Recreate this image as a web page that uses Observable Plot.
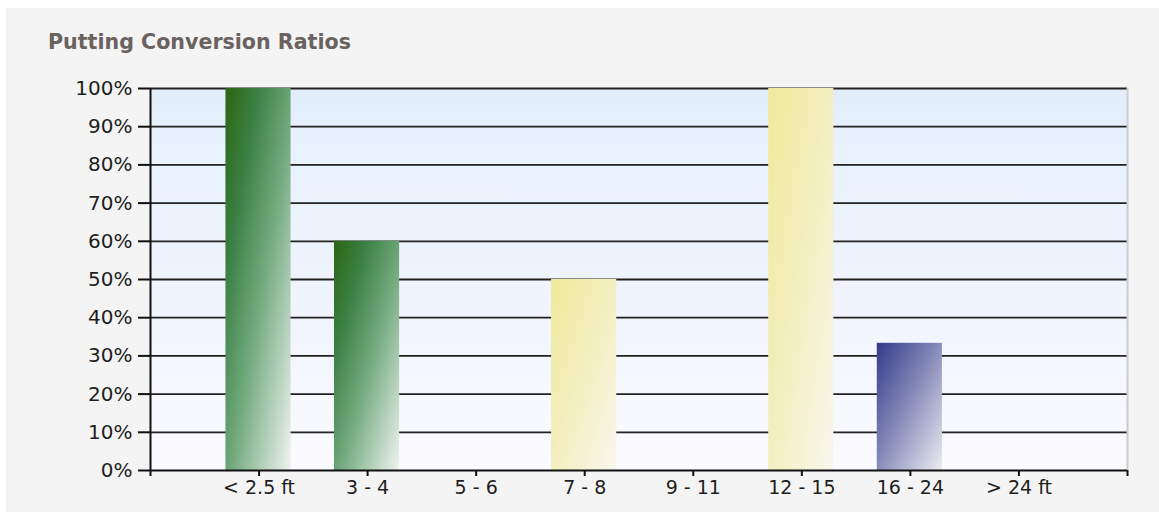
<!DOCTYPE html>
<html>
<head>
<meta charset="utf-8">
<script src="https://cdn.jsdelivr.net/npm/d3@7"></script>
<script src="https://cdn.jsdelivr.net/npm/@observablehq/plot@0.6"></script>
<style>
  html, body { margin: 0; padding: 0; background: #ffffff; }
  #panel {
    position: absolute; left: 6px; top: 8px;
    width: 1153px; height: 504px;
    background: #f4f4f4;
  }
  #title {
    margin: 0;
    padding: 24px 0 0 42px;
    height: 36px;
    line-height: 20px;
    font-family: "DejaVu Sans", Verdana, sans-serif;
    font-weight: bold;
    font-size: 20.6px;
    color: #6a625e;
  }
</style>
</head>
<body>
<div id="panel">
  <div id="title">Putting Conversion Ratios</div>
  <div id="chart"></div>
</div>
<script>
// Putt distance buckets and the share of putts holed from each
const categories = ["< 2.5 ft", "3 - 4", "5 - 6", "7 - 8", "9 - 11", "12 - 15", "16 - 24", "> 24 ft"];
const conversionPct = [100, 60, 0, 50, 0, 100, 33.3, 0];
const distanceZone = ["short", "short", "short", "mid", "mid", "mid", "long", "long"];
const yTicks = [0, 10, 20, 30, 40, 50, 60, 70, 80, 90, 100];

const rows = categories.map((c, i) => ({
  category: c,
  pos: i + 1,
  pct: conversionPct[i],
  zone: distanceZone[i]
}));

const svg = Plot.plot({
  width: 1153,
  height: 444,
  marginTop: 20,
  marginBottom: 42,
  marginLeft: 144,
  marginRight: 32,
  style: { background: "transparent", fontFamily: "DejaVu Sans, Verdana, sans-serif", overflow: "visible" },
  x: { type: "linear", domain: [0, categories.length + 1] },
  y: { type: "linear", domain: [0, 100] },
  color: {
    type: "ordinal",
    domain: ["short", "mid", "long"],
    range: ["url(#bar-short)", "url(#bar-mid)", "url(#bar-long)"]
  },
  marks: [
    Plot.frame({ fill: "url(#plot-bg)", stroke: "none" }),
    Plot.ruleY(yTicks.filter(t => t > 0), { stroke: "#222", strokeWidth: 1.8 }),
    Plot.rectY(rows.filter(d => d.pct > 0), {
      x1: d => d.pos - 0.305,
      x2: d => d.pos + 0.295,
      y1: 0,
      y2: "pct",
      fill: "zone"
    }),
    Plot.ruleX([categories.length + 1], { stroke: "#cdcdcd", strokeWidth: 2 }),
    Plot.ruleY([0], { stroke: "#111", strokeWidth: 2 }),
    Plot.ruleX([0], { stroke: "#111", strokeWidth: 2 }),
    Plot.axisY({
      ticks: yTicks,
      tickFormat: d => d + "%",
      tickSize: 12,
      tickPadding: 6,
      fontSize: 20,
      fill: "#1e1e1e",
      stroke: "#111",
      strokeWidth: 2,
      label: null
    }),
    Plot.axisX({
      ticks: d3.range(0, categories.length + 2),
      tickFormat: d => categories[d - 1] ?? "",
      tickSize: 6,
      tickPadding: 4,
      fontSize: 19,
      fill: "#1e1e1e",
      stroke: "#111",
      strokeWidth: 2,
      label: null
    })
  ]
});

// Gradients for the plot background and the three bar tones
const defs = d3.select(svg).insert("defs", ":first-child");

const bg = defs.append("linearGradient")
  .attr("id", "plot-bg").attr("x1", 0).attr("y1", 0).attr("x2", 0).attr("y2", 1);
[[0, "#e2edfc"], [0.18, "#e8f3fd"], [0.5, "#eff3fd"], [1, "#fbfbff"]]
  .forEach(([o, c]) => bg.append("stop").attr("offset", o).attr("stop-color", c));

const tones = {
  short: [[0, "#2c6512"], [0.25, "#3a8043"], [0.55, "#74ab80"], [1, "#f0f3f0"]],
  mid:   [[0, "#f0e99a"], [0.5, "#f3efc0"], [1, "#f8f7ee"]],
  long:  [[0, "#333b8a"], [0.45, "#8085b6"], [1, "#ececf2"]]
};
for (const [name, stops] of Object.entries(tones)) {
  const g = defs.append("linearGradient")
    .attr("id", "bar-" + name).attr("x1", 0).attr("y1", 0).attr("x2", 1).attr("y2", 1);
  stops.forEach(([o, c]) => g.append("stop").attr("offset", o).attr("stop-color", c));
}

document.getElementById("chart").appendChild(svg);
</script>
</body>
</html>
